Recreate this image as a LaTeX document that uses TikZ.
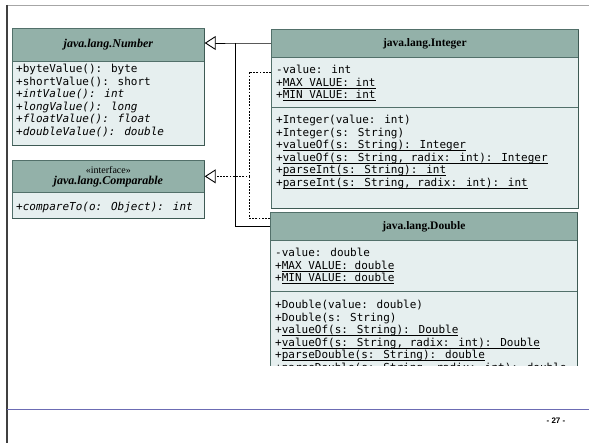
\documentclass[tikz,border=0pt]{standalone}
\usepackage{fontspec}
\setmainfont{Liberation Serif}
\newfontfamily\monof{DejaVu Sans Mono}
\newfontfamily\sansf{Liberation Sans}
\usetikzlibrary{arrows.meta}
\definecolor{hdr}{HTML}{93B1A9}
\definecolor{bdy}{HTML}{E6EFEF}
\definecolor{brd}{HTML}{52706A}
\definecolor{shd}{HTML}{3E5A54}
\definecolor{pgblue}{HTML}{6C6CB4}
\newcommand\uln[1]{\setbox0=\hbox{#1}\rlap{\rule[-1.6pt]{\wd0}{0.5pt}}\box0}
\newcommand\rows[1]{\begin{tabular}[t]{@{}l@{}}#1\end{tabular}}
\begin{document}
\begin{tikzpicture}[x=1pt,y=-1pt,
  hdrbox/.style={draw=brd, line width=0.7pt, fill=hdr, anchor=north west, inner sep=0pt},
  bdybox/.style={draw=brd, line width=0.7pt, fill=bdy, anchor=north west, inner sep=0pt},
  mtext/.style={anchor=base west, inner sep=0pt, font=\monof\fontsize{11pt}{12.5pt}\selectfont},
  ttl/.style={font=\bfseries\itshape\fontsize{12pt}{14pt}\selectfont},
  ttlup/.style={font=\bfseries\fontsize{11.5pt}{14pt}\selectfont},
  conn/.style={line width=0.9pt, black},
  dsh/.style={line width=0.9pt, black, dash pattern=on 1.8pt off 1.4pt},
  gen/.style={-{Triangle[open, length=11pt, width=14pt, fill=white]}},
  shadow/.style={shd, line width=1.4pt}
]
\useasboundingbox (0,0) rectangle (589,443);
\fill[white] (0,0) rectangle (589,443);

% page frame
\draw[gray!70, line width=0.6pt] (7,5) -- (589,5);
\draw[black!75, line width=1.2pt] (7,5) -- (7,443);
\draw[pgblue, line width=0.9pt] (7,409) -- (589,409);
\node[font=\sansf\bfseries\fontsize{8pt}{9pt}\selectfont] (pnum) at (556,421) {- 27 -};

% java.lang.Number
\node[bdybox, minimum width=192pt, minimum height=84pt] (numB) at (12,61) {};
\node[hdrbox, minimum width=192pt, minimum height=33pt, ttl] (numH) at (12,28) {java.lang.Number};
\draw[shadow] ([yshift=-1pt]numH.north east) -- (numB.south east) -- (numB.south west);
\node[mtext] (numT) at (16,73) {\rows{+byteValue(): byte\\+shortValue(): short\\\itshape +intValue(): int\\\itshape +longValue(): long\\\itshape +floatValue(): float\\\itshape +doubleValue(): double}};

% java.lang.Comparable
\node[bdybox, minimum width=192pt, minimum height=26pt] (cmpB) at (12,192) {};
\node[hdrbox, minimum width=192pt, minimum height=32pt, align=center] (cmpH) at (12,160)
  {{\fontsize{10pt}{12pt}\selectfont «interface»}\\[-1pt]{\bfseries\itshape\fontsize{12pt}{14pt}\selectfont java.lang.Comparable}};
\draw[shadow] ([yshift=-1pt]cmpH.north east) -- (cmpB.south east) -- (cmpB.south west);
\node[mtext] (cmpT) at (16,210.5) {\itshape +compareTo(o: Object): int};

% java.lang.Integer
\node[bdybox, minimum width=307pt, minimum height=101pt] (intM) at (271,107) {};
\node[bdybox, minimum width=307pt, minimum height=50pt] (intB) at (271,57) {};
\node[hdrbox, minimum width=307pt, minimum height=28pt, ttlup] (intH) at (271,29) {java.lang.Integer};
\draw[shadow] ([yshift=-1pt]intH.north east) -- (intM.south east) -- (intM.south west);
\node[mtext] (intA) at (276,74) {\rows{-value: int\\+\uln{MAX\_VALUE: int}\\+\uln{MIN\_VALUE: int}}};
\node[mtext] (intT) at (276,124) {\rows{+Integer(value: int)\\+Integer(s: String)\\+\uln{valueOf(s: String): Integer}\\+\uln{valueOf(s: String, radix: int): Integer}\\+\uln{parseInt(s: String): int}\\+\uln{parseInt(s: String, radix: int): int}}};

% java.lang.Double (cut off at the bottom)
\begin{scope}
\clip (262,200) rectangle (589,366);
\node[bdybox, minimum width=307pt, minimum height=110pt] (dblM) at (270,291) {};
\node[bdybox, minimum width=307pt, minimum height=51pt] (dblB) at (270,240) {};
\node[hdrbox, minimum width=307pt, minimum height=28pt, ttlup] (dblH) at (270,212) {java.lang.Double};
\draw[shadow] ([yshift=-1pt]dblH.north east) -- (dblM.south east);
\node[mtext] (dblA) at (275,257) {\rows{-value: double\\+\uln{MAX\_VALUE: double}\\+\uln{MIN\_VALUE: double}}};
\node[mtext] (dblT) at (275,309) {\rows{+Double(value: double)\\+Double(s: String)\\+\uln{valueOf(s: String): Double}\\+\uln{valueOf(s: String, radix: int): Double}\\+\uln{parseDouble(s: String): double}\\+\uln{parseDouble(s: String, radix: int): double}}};
\end{scope}

% connectors
\coordinate (j1) at (235,43);
\coordinate (d1) at (249,72);
\coordinate (d2) at (249,218);
\draw[conn, gen] (intH.west |- j1) -- (j1) -- (j1 -| numH.east);
\draw[conn] (dblH.west) -| (j1);
\draw[dsh, gen] (intB.west |- d1) -- (d1) |- (cmpH.east);
\draw[dsh] (dblH.west |- d2) -- (d2) -- (d1 |- cmpH.east);
\end{tikzpicture}
\end{document}
